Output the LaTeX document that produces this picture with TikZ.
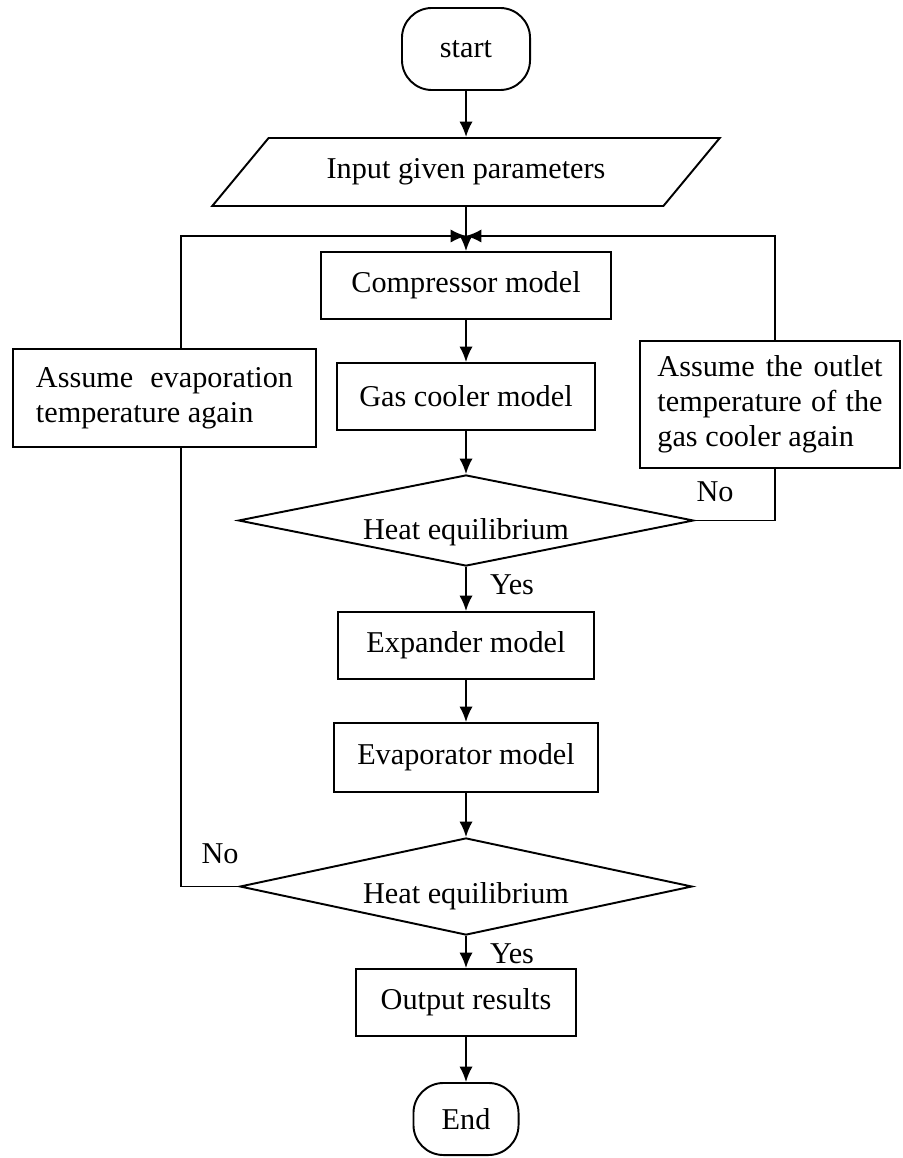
\documentclass[tikz,border=0pt]{standalone}
\usepackage{fontspec}
\setmainfont{Liberation Serif}
\usetikzlibrary{shapes.geometric,arrows.meta}

\begin{document}
\begin{tikzpicture}[x=0.01cm, y=-0.01cm, line width=0.55pt,
		node font=\fontsize{8.6}{10}\selectfont,
		box/.style={draw, rectangle, inner sep=0pt},
		term/.style={draw, rectangle, rounded corners=0.3cm, inner sep=0pt},
		decide/.style={draw, diamond, inner sep=0pt},
		arr/.style={-{Latex[length=4.4pt,width=3.8pt]}}]
			\useasboundingbox (0,0) rectangle (902,1158);
			% main column
			\node[term, minimum width=1.28cm, minimum height=0.82cm] (start) at (466,49) {start};
			\node[draw, trapezium, trapezium left angle=33.7, trapezium right angle=146.3, trapezium stretches=true, inner sep=0pt, minimum width=5.08cm, minimum height=0.68cm] (input) at (466,172) {Input given parameters};
			\node[box, minimum width=2.9cm, minimum height=0.67cm] (comp) at (466,285.5) {Compressor model};
			\node[box, minimum width=2.58cm, minimum height=0.67cm] (gas) at (466,396.5) {Gas cooler model};
			\node[decide, minimum width=4.55cm, minimum height=0.91cm, label={[yshift=-0.12cm]center:Heat equilibrium}] (dia1) at (466,520.5) {};
			\node[box, minimum width=2.56cm, minimum height=0.67cm] (exp) at (466,645.5) {Expander model};
			\node[box, minimum width=2.64cm, minimum height=0.69cm] (evap) at (466,757.5) {Evaporator model};
			\node[decide, minimum width=4.52cm, minimum height=0.97cm, label={[yshift=-0.1cm]center:Heat equilibrium}] (dia2) at (466,886.5) {};
			\node[box, minimum width=2.2cm, minimum height=0.67cm] (out) at (466,1002.5) {Output results};
			\node[term, minimum width=1.05cm, minimum height=0.72cm] (end) at (466,1119) {End};
			% side boxes
			\node[box, minimum width=3.03cm, minimum height=0.98cm, align=left] (lbox) at (164.5,398) {\makebox[2.57cm][s]{Assume evaporation}\\temperature again};
			\node[box, minimum width=2.6cm, minimum height=1.27cm, align=left] (rbox) at (770,404.5) {\makebox[2.25cm][s]{Assume the outlet}\\\makebox[2.25cm][s]{temperature of the}\\gas cooler again};
			% labels
			\node (yes1) at (512,585) {Yes};
			\node (yes2) at (512,954) {Yes};
			\node (no1) at (715,492) {No};
			\node (no2) at (220,854) {No};
			% loop points
			\coordinate (join) at (466,236);
			\coordinate (lx) at (181,236);
			\coordinate (rx) at (775,236);
			% connectors
			\draw[arr] (start) -- (input);
			\draw[arr] (input) -- (comp);
			\draw[arr] (comp) -- (gas);
			\draw[arr] (gas) -- (dia1);
			\draw[arr] (dia1) -- (exp);
			\draw[arr] (exp) -- (evap);
			\draw[arr] (evap) -- (dia2);
			\draw[arr] (dia2) -- (out);
			\draw[arr] (out) -- (end);
			\draw (dia2.west) -| (lbox.south -| lx);
			\draw[arr] (lbox.north -| lx) |- (join);
			\draw (dia1.east) -| (rbox.south -| rx);
			\draw[arr] (rbox.north -| rx) |- (join);
		\end{tikzpicture}
\end{document}
